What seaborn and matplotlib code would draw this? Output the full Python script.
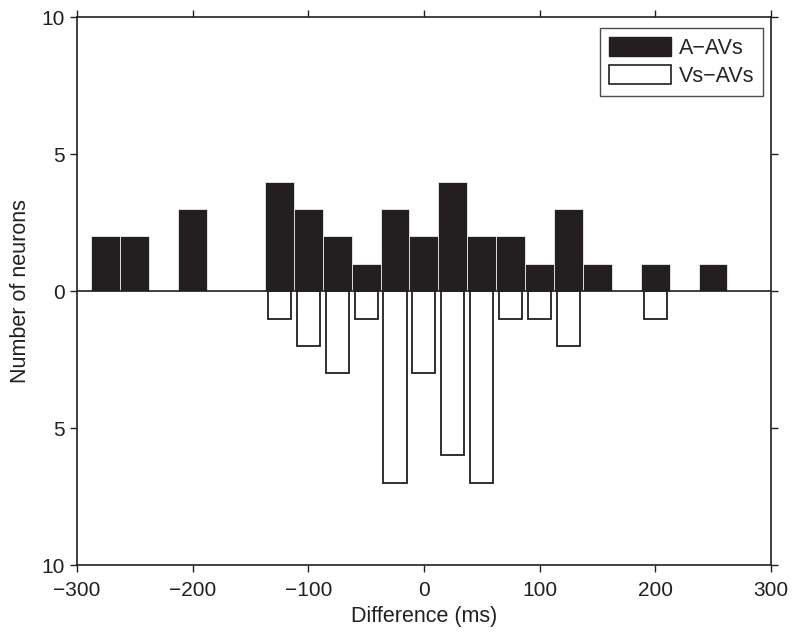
import numpy as np
import pandas as pd
import matplotlib
matplotlib.use("Agg")
import matplotlib.pyplot as plt
from matplotlib.patches import Patch
from matplotlib.ticker import FuncFormatter
import seaborn as sns

# Data -------------------------------------------------------------
# bin centres (ms) and neuron counts
a_centres = [-275, -250, -200, -125, -100, -75, -50, -25, 0, 25, 50, 75, 100, 125, 150, 200, 250]
a_counts = [2, 2, 3, 4, 3, 2, 1, 3, 2, 4, 2, 2, 1, 3, 1, 1, 1]

vs_centres = [-125, -100, -75, -50, -25, 0, 25, 50, 75, 100, 125, 200]
vs_counts = [1, 2, 3, 1, 7, 3, 6, 7, 1, 1, 2, 1]

x_ticks = [-300, -200, -100, 0, 100, 200, 300]
y_ticks = [-10, -5, 0, 5, 10]

# Style ------------------------------------------------------------
c_dark = "#231f20"
c_line = "#231f20"
fs_tick = 15
fs_lab = 15.5

sns.set_style("ticks")
plt.rcParams["font.family"] = ["Liberation Sans", "DejaVu Sans"]

df_a = pd.DataFrame({"centre": a_centres, "count": a_counts})
# Vs-AVs drawn downward from zero
df_vs = pd.DataFrame({"centre": vs_centres, "count": [-c for c in vs_counts]})

fig, ax = plt.subplots(figsize=(8, 6.37), dpi=100)
fig.subplots_adjust(left=0.09625, right=0.9635, top=0.973, bottom=0.113)

sns.barplot(data=df_a, x="centre", y="count", native_scale=True, width=1.0,
            color=c_dark, saturation=1, edgecolor="white", linewidth=0.5,
            errorbar=None, ax=ax)
sns.barplot(data=df_vs, x="centre", y="count", native_scale=True, width=0.8,
            color="white", saturation=1, edgecolor=c_line, linewidth=1.3,
            errorbar=None, ax=ax)

ax.axhline(0, color=c_line, lw=1.2, zorder=3)

ax.set_xlim(-300, 300)
ax.set_ylim(-10, 10)
ax.set_xticks(x_ticks)
ax.set_yticks(y_ticks)
ax.yaxis.set_major_formatter(FuncFormatter(lambda v, p: f"{abs(int(v))}"))
ax.xaxis.set_major_formatter(FuncFormatter(lambda v, p: f"{int(v)}".replace("-", "\u2212")))

ax.tick_params(direction="out", length=5, width=1, top=True, right=True,
               labelsize=fs_tick, colors=c_line)
ax.tick_params(axis="x", pad=6.5)
ax.tick_params(axis="y", pad=4)
for s in ax.spines.values():
    s.set_linewidth(1.2)
    s.set_color(c_line)

ax.set_xlabel("Difference (ms)", fontsize=fs_lab, color=c_line, labelpad=4.5)
ax.set_ylabel("Number of neurons", fontsize=fs_lab, color=c_line, labelpad=7)

handles = [Patch(facecolor=c_dark, edgecolor=c_dark, label="A\u2212AVs"),
           Patch(facecolor="white", edgecolor=c_line, linewidth=1.2, label="Vs\u2212AVs")]
leg = ax.legend(handles=handles, loc="upper right", bbox_to_anchor=(0.9885, 0.98),
                frameon=True, fancybox=False, fontsize=fs_lab, handlelength=2.9,
                handleheight=1.0, borderpad=0.4, labelspacing=0.3, handletextpad=0.35,
                borderaxespad=0)
leg.get_frame().set_edgecolor(c_line)
leg.get_frame().set_linewidth(1.0)

fig.savefig("out.png", dpi=100)
